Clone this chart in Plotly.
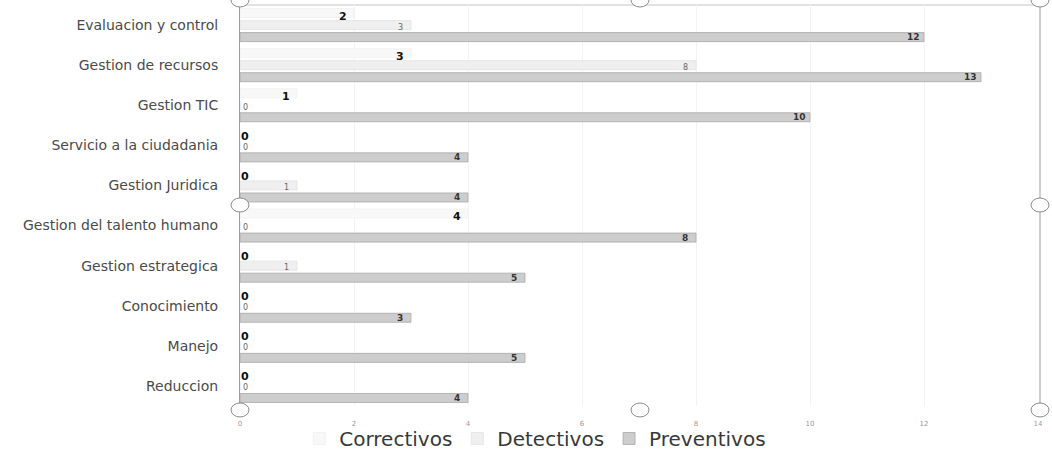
import plotly.graph_objects as go

categories = ["Evaluacion y control", "Gestion de recursos", "Gestion TIC",
              "Servicio a la ciudadania", "Gestion Juridica", "Gestion del talento humano",
              "Gestion estrategica", "Conocimiento", "Manejo", "Reduccion"]
correctivos = [2, 3, 1, 0, 0, 4, 0, 0, 0, 0]
detectivos = [3, 8, 0, 0, 1, 0, 1, 0, 0, 0]
preventivos = [12, 13, 10, 4, 4, 8, 5, 3, 5, 4]
x_ticks = [0, 2, 4, 6, 8, 10, 12, 14]

W, H = 1052, 463
L, R, T, B = 240, 14, 5, 57

fig = go.Figure()
series = [
    ("Correctivos", correctivos, "#f8f8f8", "#f0f0f0"),
    ("Detectivos", detectivos, "#efefef", "#e2e2e2"),
    ("Preventivos", preventivos, "#cdcdcd", "#a8a8a8"),
]
for name, vals, col, lcol in series:
    fig.add_trace(go.Bar(
        y=categories, x=vals, name=name, orientation="h",
        marker=dict(color=col, line=dict(color=lcol, width=0.8)),
        hoverinfo="x+y+name",
    ))

# data labels
label_styles = [
    (9, dict(family="DejaVu Sans", size=11, color="#111111"), True),
    (-2, dict(family="DejaVu Sans", size=8, color="#666666"), False),
    (-12, dict(family="DejaVu Sans", size=9, color="#333333"), True),
]
annotations = []
for (name, vals, _, _), (ysh, fnt, bold) in zip(series, label_styles):
    for cat, v in zip(categories, vals):
        txt = f"<b>{v}</b>" if bold else str(v)
        annotations.append(dict(
            x=v, y=cat, xref="x", yref="y", text=txt, showarrow=False,
            xanchor="center", yanchor="middle",
            xshift=(-11 if v > 0 else 5), yshift=ysh, font=fnt,
        ))

# chart-frame handles (Excel selection handles)
def px_x(p):
    return (p - L) / (W - L - R)

def px_y(p):
    return 1 - (p - T) / (H - T - B)

shapes = []
handles = [(240, 0), (640, 0), (1040, 0), (240, 205), (1040, 205),
           (240, 410), (640, 410), (1040, 410)]
for hx, hy in handles:
    shapes.append(dict(
        type="circle", xref="paper", yref="paper",
        xsizemode="pixel", ysizemode="pixel",
        xanchor=px_x(hx), yanchor=px_y(hy),
        x0=-9, x1=9, y0=-7, y1=7,
        line=dict(color="#8a8a8a", width=1), fillcolor="white", layer="above",
    ))
# frame lines
shapes.append(dict(type="line", xref="paper", yref="paper",
                   x0=0, x1=px_x(1040), y0=1, y1=1,
                   line=dict(color="#c4c4c4", width=1), layer="below"))
shapes.append(dict(type="line", xref="paper", yref="paper",
                   x0=px_x(1040), x1=px_x(1040), y0=0, y1=1,
                   line=dict(color="#9a9a9a", width=1), layer="below"))

fig.update_layout(
    width=W, height=H,
    margin=dict(l=L, r=R, t=T, b=B, autoexpand=False),
    paper_bgcolor="white", plot_bgcolor="white",
    barmode="group", bargap=0.1, bargroupgap=0.25,
    font=dict(family="DejaVu Sans", color="#444444"),
    xaxis=dict(range=[0, 14], tickvals=x_ticks, showgrid=True,
               gridcolor="#f3f3f3", zeroline=False, showline=False,
               tickfont=dict(size=7, color="#999999"), ticks="", ticklabelstandoff=12),
    yaxis=dict(autorange="reversed", categoryorder="array", categoryarray=categories,
               showline=True, linecolor="#a0a0a0", linewidth=1,
               tickfont=dict(size=14, color="#4a4a4a"), ticks="", ticklabelstandoff=18,
               showgrid=False),
    legend=dict(orientation="h", x=0.37, xanchor="center",
                yref="container", y=0.095, yanchor="top",
                bgcolor="rgba(0,0,0,0)",
                font=dict(size=20, color="#383838"), itemwidth=30),
    annotations=annotations,
    shapes=shapes,
    showlegend=True,
)

fig.write_html("out.html", config={"displayModeBar": False},
               post_script="document.body.style.margin='0';")
